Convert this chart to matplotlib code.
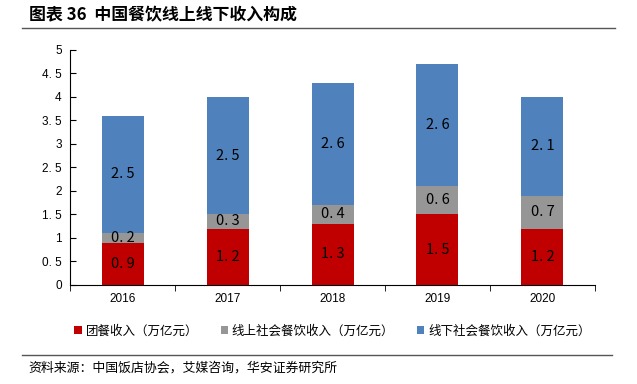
import numpy as np
import matplotlib
matplotlib.use("Agg")
import matplotlib.pyplot as plt
from matplotlib.ticker import FuncFormatter

plt.rcParams['font.family'] = ['Noto Sans CJK SC', 'DejaVu Sans']

years = ["2016", "2017", "2018", "2019", "2020"]
group_meal = [0.9, 1.2, 1.3, 1.5, 1.2]      # 团餐收入
online_social = [0.2, 0.3, 0.4, 0.6, 0.7]   # 线上社会餐饮收入
offline_social = [2.5, 2.5, 2.6, 2.6, 2.1]  # 线下社会餐饮收入
series_names = ["团餐收入（万亿元）", "线上社会餐饮收入（万亿元）", "线下社会餐饮收入（万亿元）"]
colors = ["#C00000", "#969696", "#4F81BD"]


def fmt(v):
    s = str(int(v)) if v == int(v) else f"{v:.1f}"
    return s.replace(".", ". ")


fig = plt.figure(figsize=(6.37, 3.84), dpi=100)
ax = fig.add_axes([0.110, 0.258, 0.824, 0.612])

x = np.arange(len(years))
bottom = np.zeros(len(years))
for vals, name, c in zip([group_meal, online_social, offline_social], series_names, colors):
    vals = np.array(vals)
    ax.bar(x, vals, 0.4, bottom=bottom, color=c, label=name)
    for xi, b, v in zip(x, bottom, vals):
        ax.text(xi, b + v / 2, f"{v:.1f}".replace(".", ". "), ha="center", va="center",
                fontsize=10.5, color="black")
    bottom += vals

ax.set_xlim(-0.5, len(years) - 0.5)
ax.set_ylim(0, 5)
ax.set_yticks(np.arange(0, 5.01, 0.5))
ax.yaxis.set_major_formatter(FuncFormatter(lambda v, p: fmt(v)))
ax.set_xticks(x)
ax.set_xticklabels(years)
ax.set_xticks(np.arange(-0.5, len(years), 1), minor=True)
ax.tick_params(axis="x", which="major", length=0, pad=6, labelsize=8.5)
ax.tick_params(axis="x", which="minor", length=4, direction="out")
ax.tick_params(axis="y", length=4, direction="in", labelsize=8.5, pad=6)
for lab in ax.get_xticklabels() + ax.get_yticklabels():
    lab.set_fontfamily("Liberation Sans")
for s in ["top", "right"]:
    ax.spines[s].set_visible(False)
ax.spines["left"].set_color("black")
ax.spines["bottom"].set_color("black")

ax.legend(loc="upper center", bbox_to_anchor=(0.5, -0.12), ncol=3, frameon=False,
          fontsize=9, handlelength=0.6, handleheight=0.6, handletextpad=0.3, columnspacing=1.8)

fig.text(0.045, 0.962, "图表 36  中国餐饮线上线下收入构成", fontsize=12.2, fontweight="bold",
         va="center", ha="left")
fig.add_artist(plt.Line2D([0.035, 0.965], [0.928, 0.928], color="#555555", lw=1))
fig.add_artist(plt.Line2D([0.035, 0.96], [0.075, 0.075], color="#555555", lw=1))
fig.text(0.045, 0.042, "资料来源：中国饭店协会，艾媒咨询，华安证券研究所", fontsize=9.3,
         va="center", ha="left")

fig.savefig("out.png", dpi=100)
